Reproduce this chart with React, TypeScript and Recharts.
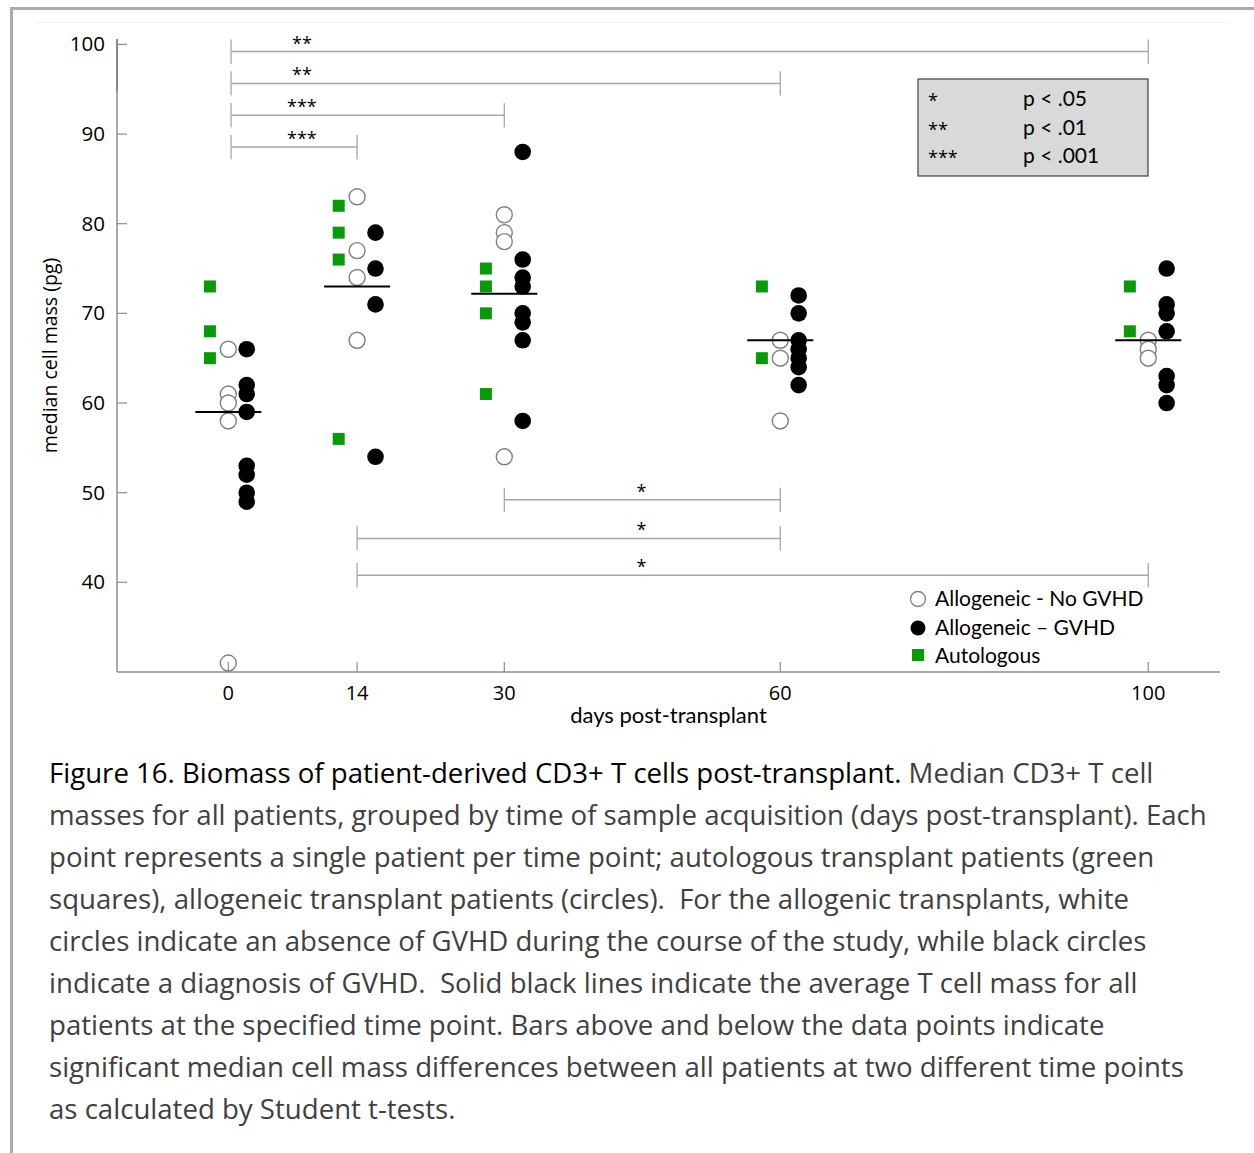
import React from 'react';
import {
  ScatterChart,
  Scatter,
  XAxis,
  YAxis,
  ReferenceLine,
  ReferenceDot,
  Customized,
} from 'recharts';

// Sampling time points (days post-transplant)
const days = [0, 14, 30, 60, 100];
const dayTicks = [0, 14, 30, 60, 100];
const massTicks = [40, 50, 60, 70, 80, 90, 100];

// Median CD3+ T cell mass (pg) per patient, one inner list per time point
const autologous = [
  [73, 68, 65],
  [82, 79, 76, 56],
  [75, 73, 70, 61],
  [73, 65],
  [73, 68],
];
const alloNoGvhd = [
  [66, 61, 60, 58, 31],
  [83, 77, 74, 67],
  [81, 79, 78, 54],
  [67, 65, 58],
  [67, 66, 65],
];
const alloGvhd = [
  [66, 62, 61, 59, 53, 52, 50, 49],
  [79, 75, 71, 54],
  [88, 76, 74, 73, 70, 69, 67, 58],
  [72, 70, 67, 66, 65, 64, 62],
  [75, 71, 70, 68, 63, 62, 60],
];
// Average T cell mass for all patients at each time point
const groupMeans = [59, 73, 72.2, 67, 67];

// Pairwise t-test comparisons: time points compared, bar height (pg), stars
const brackets = [
  { from: 0.3, to: 100, level: 99.2, stars: '**', labelAt: 8 },
  { from: 0.3, to: 60, level: 95.65, stars: '**', labelAt: 8 },
  { from: 0.3, to: 30, level: 92.1, stars: '***', labelAt: 8 },
  { from: 0.3, to: 14, level: 88.55, stars: '***', labelAt: 8 },
  { from: 30, to: 60, level: 49.2, stars: '*', labelAt: 44.9 },
  { from: 14, to: 60, level: 44.9, stars: '*', labelAt: 44.9 },
  { from: 14, to: 100, level: 40.8, stars: '*', labelAt: 44.9 },
];

const pKeyStars = ['*', '**', '***'];
const pKeyText = ['p < .05', 'p < .01', 'p < .001'];

const legendLabels = ['Allogeneic - No GVHD', 'Allogeneic \u2013 GVHD', 'Autologous'];

const captionTitle = 'Figure 16. Biomass of patient-derived CD3+ T cells post-transplant.';
const captionLines = [
  ' Median CD3+ T cell',
  'masses for all patients, grouped by time of sample acquisition (days post-transplant). Each',
  'point represents a single patient per time point; autologous transplant patients (green',
  'squares), allogeneic transplant patients (circles).  For the allogenic transplants, white',
  'circles indicate an absence of GVHD during the course of the study, while black circles',
  'indicate a diagnosis of GVHD.  Solid black lines indicate the average T cell mass for all',
  'patients at the specified time point. Bars above and below the data points indicate',
  'significant median cell mass differences between all patients at two different time points',
  'as calculated by Student t-tests.',
];

const GREEN = '#0a990a';
const AXIS = '#8c8c8c';
const BRACKET = '#a6a6a6';
const DODGE = 2; // horizontal spread of the three patient groups, in days
const CAP = 1.35; // half height of the bracket end caps, in pg
const TICK_FONT = '"Open Sans", sans-serif';
const TEXT_FONT = 'Lato, "Open Sans", sans-serif';

const toPoints = (groups: number[][], offset: number) =>
  groups.flatMap((vals, i) => vals.map((v) => ({ day: days[i] + offset, mass: v })));

const autologousPts = toPoints(autologous, -DODGE);
const noGvhdPts = toPoints(alloNoGvhd, 0);
const gvhdPts = toPoints(alloGvhd, DODGE);
const meanPts = days.map((d, i) => ({ day: d, mass: groupMeans[i] }));

const OpenCircle = (p: any) => (
  <circle cx={p.cx} cy={p.cy} r={8} fill="#fff" stroke="#7f7f7f" strokeWidth={1.4} />
);
const FilledCircle = (p: any) => <circle cx={p.cx} cy={p.cy} r={8.3} fill="#000" />;
const Square = (p: any) => (
  <rect x={p.cx - 6} y={p.cy - 6} width={12} height={12} fill={GREEN} />
);
const MeanBar = (p: any) => (
  <line x1={p.cx - 33} x2={p.cx + 33} y1={p.cy} y2={p.cy} stroke="#000" strokeWidth={2} />
);

const DayTick = (p: any) => (
  <g>
    <line x1={p.x} x2={p.x} y1={p.y} y2={p.y - 10} stroke={AXIS} strokeWidth={1.2} />
    <text x={p.x} y={p.y + 28} textAnchor="middle" fontSize={20} fontFamily={TICK_FONT} fill="#000">
      {p.payload.value}
    </text>
  </g>
);

const MassTick = (p: any) => (
  <g>
    <line x1={p.x} x2={p.x + 10} y1={p.y} y2={p.y} stroke={AXIS} strokeWidth={1.2} />
    <text x={p.x - 12} y={p.y + 7} textAnchor="end" fontSize={20.5} fontFamily={TICK_FONT} fill="#000">
      {p.payload.value}
    </text>
  </g>
);

const StarLabel = (p: any) => (
  <text x={p.cx} y={p.cy} textAnchor="middle" fontSize={18} fontFamily={TICK_FONT} fill="#000">
    {p.stars}
  </text>
);

// Significance key box (upper right)
const PValueKey = () => (
  <g fontFamily={TEXT_FONT} fontSize={21} fill="#000">
    <rect x={918} y={79} width={230} height={97} fill="#d9d9d9" stroke="#404040" strokeWidth={1.2} />
    {pKeyStars.map((s, i) => (
      <text key={s} x={928} y={107 + i * 28.5} fontFamily={TICK_FONT} fontSize={18}>
        {s}
      </text>
    ))}
    {pKeyText.map((t, i) => (
      <text key={t} x={1023} y={106 + i * 28.5}>
        {t}
      </text>
    ))}
  </g>
);

// Marker key (lower right)
const MarkerKey = () => (
  <g fontFamily={TEXT_FONT} fontSize={21} fill="#000">
    <circle cx={918} cy={599} r={7.5} fill="#fff" stroke="#7f7f7f" strokeWidth={1.3} />
    <circle cx={918} cy={628} r={7.5} fill="#000" />
    <rect x={912} y={649} width={12} height={12} fill={GREEN} />
    {legendLabels.map((t, i) => (
      <text key={t} x={935} y={606 + i * 28.5}>
        {t}
      </text>
    ))}
  </g>
);

export default function App() {
  return (
    <div
      style={{
        position: 'absolute',
        left: 0,
        top: 0,
        width: 1254,
        height: 1153,
        background: '#fff',
        overflow: 'hidden',
      }}
    >
      <div style={{ position: 'absolute', left: 10, top: 7, width: 1244, height: 3, background: '#ababab' }} />
      <div style={{ position: 'absolute', left: 10, top: 7, width: 3, height: 1146, background: '#ababab' }} />
      <div style={{ position: 'absolute', left: 35, top: 22, width: 1195, height: 1, background: '#f1f1f1' }} />

      <div style={{ position: 'absolute', left: 0, top: 0 }}>
        <ScatterChart width={1254} height={740} margin={{ top: 39, right: 34, bottom: 8, left: 41 }}>
          <XAxis
            type="number"
            dataKey="day"
            domain={[-12.1, 107.8]}
            ticks={dayTicks}
            allowDataOverflow
            height={60}
            tickSize={0}
            tickMargin={0}
            tick={<DayTick />}
            tickLine={false}
            axisLine={{ stroke: AXIS, strokeWidth: 1.5 }}
            label={{
              value: 'days post-transplant',
              position: 'insideBottom',
              offset: 9,
              fontSize: 22,
              fontFamily: TEXT_FONT,
              fill: '#000',
            }}
          />
          <YAxis
            type="number"
            dataKey="mass"
            domain={[30, 100.6]}
            ticks={massTicks}
            allowDataOverflow
            width={76}
            tickSize={0}
            tickMargin={0}
            tick={<MassTick />}
            tickLine={false}
            axisLine={{ stroke: AXIS, strokeWidth: 1.5 }}
            label={{
              value: 'median cell mass (pg)',
              angle: -90,
              position: 'insideLeft',
              offset: 9,
              fontSize: 19.5,
              fontFamily: TICK_FONT,
              fill: '#000',
              style: { textAnchor: 'middle' },
            }}
          />

          {/* darker stroke on the top section of the value axis */}
          <ReferenceLine
            segment={[
              { x: -12.1, y: 94.8 },
              { x: -12.1, y: 100.6 },
            ]}
            stroke="#555"
            strokeWidth={1.6}
            ifOverflow="visible"
          />

          {brackets.map((b, i) => (
            <ReferenceLine
              key={`h${i}`}
              segment={[
                { x: b.from, y: b.level },
                { x: b.to, y: b.level },
              ]}
              stroke={BRACKET}
              strokeWidth={1.5}
              ifOverflow="visible"
            />
          ))}
          {brackets.flatMap((b, i) =>
            [b.from, b.to].map((x, j) => (
              <ReferenceLine
                key={`v${i}-${j}`}
                segment={[
                  { x, y: b.level - CAP },
                  { x, y: b.level + CAP },
                ]}
                stroke={BRACKET}
                strokeWidth={1.3}
                ifOverflow="visible"
              />
            ))
          )}
          {brackets.map((b, i) => (
            <ReferenceDot
              key={`s${i}`}
              x={b.labelAt}
              y={b.level}
              ifOverflow="visible"
              shape={(p: any) => <StarLabel {...p} cy={p.cy - 2} stars={b.stars} />}
            />
          ))}

          <Scatter name="Autologous" data={autologousPts} shape={<Square />} isAnimationActive={false} />
          <Scatter name="Allogeneic - No GVHD" data={noGvhdPts} shape={<OpenCircle />} isAnimationActive={false} />
          <Scatter name="Allogeneic - GVHD" data={gvhdPts} shape={<FilledCircle />} isAnimationActive={false} />
          <Scatter name="Average" data={meanPts} shape={<MeanBar />} isAnimationActive={false} />

          <Customized component={<PValueKey />} />
          <Customized component={<MarkerKey />} />
        </ScatterChart>
      </div>

      <div
        style={{
          position: 'absolute',
          left: 49,
          top: 751,
          fontFamily: TICK_FONT,
          fontSize: 27.6,
          lineHeight: '42px',
          color: '#404040',
          fontWeight: 400,
          whiteSpace: 'pre',
        }}
      >
        <div>
          <span style={{ color: '#000', fontWeight: 400 }}>{captionTitle}</span>
          {captionLines[0]}
        </div>
        {captionLines.slice(1).map((l, i) => (
          <div key={i}>{l}</div>
        ))}
      </div>
    </div>
  );
}
